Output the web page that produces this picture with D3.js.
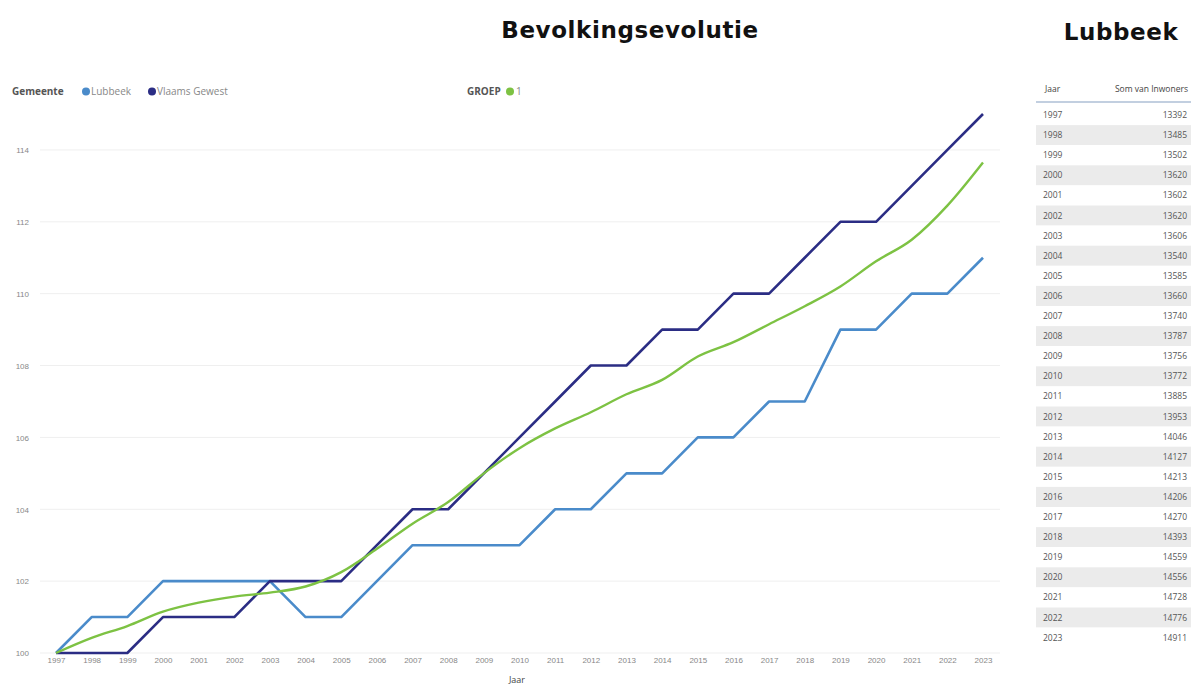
<!DOCTYPE html>
<html>
<head>
<meta charset="utf-8">
<script src="https://cdn.jsdelivr.net/npm/d3@7"></script>
<style>
  body { margin: 0; background: #fff; }
  svg { display: block; font-family: "Open Sans", "DejaVu Sans", sans-serif; }
</style>
</head>
<body>
<svg id="canvas"></svg>
<script>
// jaren en reeksen (index 1997 = 100)
let years = [1997, 1998, 1999, 2000, 2001, 2002, 2003, 2004, 2005, 2006, 2007, 2008, 2009,
  2010, 2011, 2012, 2013, 2014, 2015, 2016, 2017, 2018, 2019, 2020, 2021, 2022, 2023];

let lubbeek = [100, 101, 101, 102, 102, 102, 102, 101, 101, 102, 103, 103, 103,
  103, 104, 104, 105, 105, 106, 106, 107, 107, 109, 109, 110, 110, 111];

let vlaams = [100, 100, 100, 101, 101, 101, 102, 102, 102, 103, 104, 104, 105,
  106, 107, 108, 108, 109, 109, 110, 110, 111, 112, 112, 113, 114, 115];

let groep = [100, 100.42, 100.75, 101.15, 101.4, 101.57, 101.68, 101.85, 102.25, 102.9, 103.6, 104.2, 105.0,
  105.7, 106.25, 106.7, 107.2, 107.6, 108.25, 108.65, 109.15, 109.65, 110.2, 110.9, 111.5, 112.45, 113.65];

let inwoners = [13392, 13485, 13502, 13620, 13602, 13620, 13606, 13540, 13585, 13660, 13740, 13787, 13756,
  13772, 13885, 13953, 14046, 14127, 14213, 14206, 14270, 14393, 14559, 14556, 14728, 14776, 14911];

let yTicks = [100, 102, 104, 106, 108, 110, 112, 114];

let width = 1193,
  height = 686;

let canvas = d3.select("#canvas").attr("width", width).attr("height", height);

let xScale = d3.scalePoint().domain(years).range([56, 983]);
let yScale = d3.scaleLinear().domain([100, 115]).range([653, 114]);

// titels
canvas.append("text")
  .attr("x", 630).attr("y", 38)
  .attr("text-anchor", "middle")
  .style("font-family", "'DejaVu Sans', sans-serif")
  .style("font-weight", "bold")
  .style("font-size", "23px")
  .style("letter-spacing", "0.6px")
  .attr("fill", "#111")
  .text("Bevolkingsevolutie");

canvas.append("text")
  .attr("x", 1121).attr("y", 40)
  .attr("text-anchor", "middle")
  .style("font-family", "'DejaVu Sans', sans-serif")
  .style("font-weight", "bold")
  .style("font-size", "23px")
  .style("letter-spacing", "0.6px")
  .attr("fill", "#111")
  .text("Lubbeek");

// legenda
let legend = canvas.append("g").style("font-size", "10px");
legend.append("text").attr("x", 12).attr("y", 95).attr("fill", "#555")
  .style("font-weight", "bold").text("Gemeente");
let legendItems = [
  { x: 86, label: "Lubbeek", color: "#4a8bca" },
  { x: 152, label: "Vlaams Gewest", color: "#2b2d84" }
];
legendItems.forEach((d) => {
  legend.append("circle").attr("cx", d.x).attr("cy", 91.5).attr("r", 4).attr("fill", d.color);
  legend.append("text").attr("x", d.x + 5).attr("y", 95).attr("fill", "#888").text(d.label);
});
legend.append("text").attr("x", 467).attr("y", 95).attr("fill", "#555")
  .style("font-weight", "bold").text("GROEP");
legend.append("circle").attr("cx", 510).attr("cy", 91.5).attr("r", 4).attr("fill", "#7dc243");
legend.append("text").attr("x", 516).attr("y", 95).attr("fill", "#888").text("1");

// rasterlijnen
canvas.append("g")
  .selectAll("line")
  .data(yTicks)
  .enter()
  .append("line")
  .attr("x1", 40).attr("x2", 1000)
  .attr("y1", (d) => yScale(d)).attr("y2", (d) => yScale(d))
  .attr("stroke", "#efefef")
  .attr("stroke-width", 1);

// assen
let yAxis = d3.axisLeft(yScale).tickValues(yTicks).tickSize(0).tickPadding(0);
let gy = canvas.append("g").attr("transform", "translate(29, 0)").call(yAxis);
gy.select(".domain").remove();
gy.selectAll("text").attr("fill", "#888").style("font-size", "8px")
  .attr("text-anchor", "end").attr("dy", "0.35em");

let xAxis = d3.axisBottom(xScale).tickSize(0).tickPadding(0);
let gx = canvas.append("g").attr("transform", "translate(0, 657)").call(xAxis);
gx.select(".domain").remove();
gx.selectAll("text").attr("fill", "#888").style("font-size", "8px");

canvas.append("text")
  .attr("x", 517).attr("y", 683)
  .attr("text-anchor", "middle")
  .style("font-size", "9px")
  .attr("fill", "#444")
  .text("Jaar");

// lijnen
let stepLine = d3.line()
  .x((d, i) => xScale(years[i]))
  .y((d) => yScale(d));

let smoothLine = d3.line()
  .x((d, i) => xScale(years[i]))
  .y((d) => yScale(d))
  .curve(d3.curveMonotoneX);

canvas.append("path").datum(lubbeek)
  .attr("d", stepLine)
  .attr("fill", "none").attr("stroke", "#4a8bca").attr("stroke-width", 2.6)
  .attr("stroke-linejoin", "round");

canvas.append("path").datum(vlaams)
  .attr("d", stepLine)
  .attr("fill", "none").attr("stroke", "#2b2d84").attr("stroke-width", 2.6)
  .attr("stroke-linejoin", "round");

canvas.append("path").datum(groep)
  .attr("d", smoothLine)
  .attr("fill", "none").attr("stroke", "#7dc243").attr("stroke-width", 2.4)
  .attr("stroke-linejoin", "round");

// tabel
let table = canvas.append("g").style("font-size", "8.5px");
let rowTop = 105,
  rowH = 20.1,
  tLeft = 1036,
  tRight = 1191;

table.append("text").attr("x", 1045).attr("y", 92).attr("fill", "#444").text("Jaar");
table.append("text").attr("x", 1188).attr("y", 92).attr("text-anchor", "end")
  .attr("fill", "#444").text("Som van Inwoners");
table.append("line").attr("x1", tLeft).attr("x2", tRight).attr("y1", 102).attr("y2", 102)
  .attr("stroke", "#aebfd6").attr("stroke-width", 1.5);

let rows = table.selectAll("g.row")
  .data(years)
  .enter()
  .append("g")
  .attr("class", "row")
  .attr("transform", (d, i) => "translate(0," + (rowTop + i * rowH) + ")");

rows.append("rect")
  .attr("x", tLeft).attr("width", tRight - tLeft)
  .attr("height", rowH)
  .attr("fill", (d, i) => (i % 2 === 1 ? "#ebebeb" : "#fff"));

rows.append("text")
  .attr("x", 1043).attr("y", rowH / 2 + 3)
  .attr("fill", "#555")
  .text((d) => d);

rows.append("text")
  .attr("x", 1187).attr("y", rowH / 2 + 3)
  .attr("text-anchor", "end")
  .attr("fill", "#555")
  .text((d, i) => inwoners[i]);
</script>
</body>
</html>
